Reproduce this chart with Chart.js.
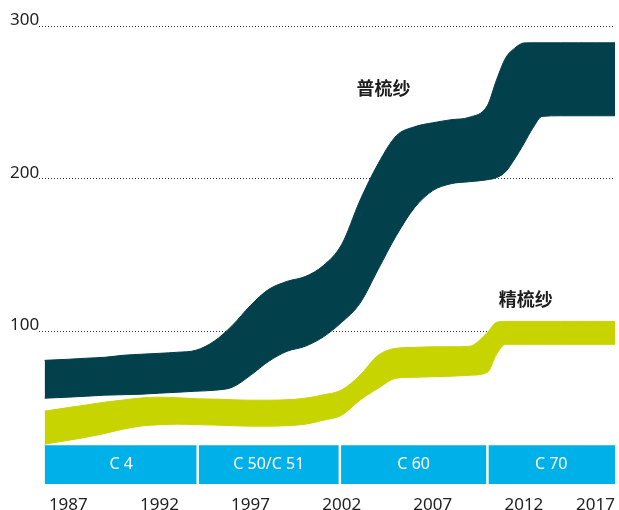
<!DOCTYPE html>
<html>
<head>
<meta charset="utf-8">
<script src="https://cdn.jsdelivr.net/npm/chart.js@4.4.0/dist/chart.umd.min.js"></script>
<style>
  html, body { margin: 0; padding: 0; background: #fff; overflow: hidden; }
  #wrap { width: 628px; height: 527px; }
</style>
</head>
<body>
<div id="wrap"><canvas id="chart" width="628" height="527"></canvas></div>
<script>
// Axis ticks
const tickYears = [1987, 1992, 1997, 2002, 2007, 2012, 2017];
const tickValues = [100, 200, 300];

// Carded yarn band (普梳纱)
const cardedYears = [1985.7, 1987, 1988, 1989, 1990, 1991, 1992, 1993, 1994, 1995, 1996, 1997, 1998, 1999, 2000,
  2001, 2002, 2003, 2004, 2005, 2006, 2007, 2008, 2009, 2010, 2010.5, 2011, 2011.5, 2012, 2012.5, 2013, 2014, 2015, 2016, 2017];
const cardedUpper = [81.0, 81.7, 82.4, 83.0, 84.3, 85.0, 85.6, 86.3, 87.6, 93.5, 103.9, 117.0, 127.5, 132.7, 135.9,
  143.1, 156.9, 185.6, 209.8, 228.1, 234.0, 236.6, 238.6, 240.2, 248.0, 264.8, 279.1, 285.5, 288.9, 289, 289, 289, 289, 289, 289];
const cardedLower = [56.2, 56.9, 57.5, 58.2, 58.5, 58.8, 59.5, 60.1, 60.8, 61.4, 63.4, 71.2, 80.4, 86.9, 90.2,
  96.4, 105.9, 118.3, 140.5, 162.7, 181.0, 192.2, 196.7, 198.0, 199.3, 200.7, 204.6, 213.0, 222.9, 233.3, 240.8, 241.2, 241.2, 241.2, 241.2];

// Combed yarn band (精梳纱)
const combedYears = [1985.7, 1987, 1988, 1989, 1990, 1991, 1992, 1993, 1994, 1995, 1996, 1997, 1998, 1999, 2000,
  2001, 2002, 2003, 2004, 2005, 2006, 2007, 2008, 2009, 2010, 2010.5, 2011, 2012, 2013, 2014, 2015, 2016, 2017];
const combedUpper = [47.7, 50.1, 51.8, 53.6, 55.0, 56.4, 56.9, 56.5, 55.9, 55.6, 55.2, 54.9, 54.9, 55.2, 56.2,
  58.4, 61.6, 71.2, 84.3, 88.9, 89.5, 89.9, 89.9, 90.2, 99.3, 105.9, 106.5, 106.5, 106.5, 106.5, 106.5, 106.5, 106.5];
const combedLower = [26.1, 28.6, 30.7, 33.1, 35.9, 38.0, 38.8, 39.2, 38.9, 38.6, 38.2, 37.9, 37.9, 38.2, 39.2,
  41.8, 45.1, 54.9, 62.7, 69.3, 69.9, 70.3, 70.6, 71.2, 73.2, 85.0, 91.5, 91.5, 91.5, 91.5, 91.5, 91.5, 91.5];

// Machine generations along the bottom
const eraNames = ['C 4', 'C 50/C 51', 'C 60', 'C 70'];
const eraBounds = [1985.7, 1994.1, 2001.9, 2010, 2017];
const eraHeight = 25;

const seriesNames = ['普梳纱', '精梳纱'];

const darkColor = '#02404c';
const greenColor = '#c8d400';
const blueColor = '#00b1e9';
const textFont = "'Noto Sans', sans-serif";

function toPoints(xs, ys) {
  return xs.map(function (x, i) { return { x: x, y: ys[i] }; });
}

function band(xs, ys, color, fill) {
  return {
    data: toPoints(xs, ys),
    fill: fill,
    backgroundColor: color,
    borderColor: color,
    borderWidth: 1,
    pointRadius: 0,
    cubicInterpolationMode: 'monotone'
  };
}

// Labels drawn on top: era names, separators and series names
const labelPlugin = {
  id: 'labels',
  afterDatasetsDraw(chart) {
    const ctx = chart.ctx;
    const xs = chart.scales.x;
    const ys = chart.scales.y;
    const top = ys.getPixelForValue(eraHeight);
    const bottom = ys.getPixelForValue(0);
    ctx.save();
    ctx.strokeStyle = '#fff';
    ctx.lineWidth = 2.5;
    for (let i = 1; i < eraBounds.length - 1; i++) {
      const px = xs.getPixelForValue(eraBounds[i]);
      ctx.beginPath();
      ctx.moveTo(px, top - 1);
      ctx.lineTo(px, bottom + 1);
      ctx.stroke();
    }
    ctx.fillStyle = '#fff';
    ctx.font = '16px ' + textFont;
    ctx.textAlign = 'center';
    ctx.textBaseline = 'middle';
    eraNames.forEach(function (name, i) {
      const cx = (xs.getPixelForValue(eraBounds[i]) + xs.getPixelForValue(eraBounds[i + 1])) / 2;
      ctx.fillText(name, cx, (top + bottom) / 2);
    });
    ctx.fillStyle = '#1e1e1e';
    ctx.font = "bold 18px 'Noto Sans CJK SC', sans-serif";
    ctx.fillText(seriesNames[0], xs.getPixelForValue(2004.3), ys.getPixelForValue(259.5));
    ctx.fillText(seriesNames[1], xs.getPixelForValue(2012.1), ys.getPixelForValue(121));
    ctx.restore();
  }
};

const chart = new Chart(document.getElementById('chart'), {
  type: 'line',
  data: {
    datasets: [
      band(cardedYears, cardedUpper, darkColor, '+1'),
      band(cardedYears, cardedLower, darkColor, false),
      band(combedYears, combedUpper, greenColor, '+1'),
      band(combedYears, combedLower, greenColor, false),
      {
        data: [{ x: eraBounds[0], y: eraHeight }, { x: eraBounds[eraBounds.length - 1], y: eraHeight }],
        fill: { value: 0 },
        backgroundColor: blueColor,
        borderColor: blueColor,
        borderWidth: 1,
        pointRadius: 0
      }
    ]
  },
  options: {
    responsive: false,
    animation: false,
    events: [],
    layout: { padding: { left: 10, top: 26, right: 0, bottom: 0 } },
    plugins: {
      legend: { display: false },
      tooltip: { enabled: false }
    },
    scales: {
      x: {
        type: 'linear',
        min: 1985.4,
        max: 2017,
        // a blank tick at the left edge so the 'inner' alignment only pulls in the last year
        afterBuildTicks: function (s) {
          s.ticks = [{ value: s.min }].concat(tickYears.map(function (v) { return { value: v }; }));
        },
        grid: { display: false, drawTicks: false },
        border: { display: false },
        ticks: {
          color: '#222',
          font: { family: textFont, size: 17, lineHeight: 1 },
          padding: 13,
          align: 'inner',
          maxRotation: 0,
          autoSkip: false,
          callback: function (v) { return tickYears.indexOf(v) >= 0 ? String(v) : ''; }
        }
      },
      y: {
        min: 0,
        max: 300,
        afterBuildTicks: function (s) { s.ticks = tickValues.map(function (v) { return { value: v }; }); },
        grid: { color: '#333', lineWidth: 1, drawTicks: false },
        border: { display: false, dash: [1, 2] },
        ticks: {
          color: '#222',
          font: { family: textFont, size: 17 },
          padding: 0,
          crossAlign: 'far',
          labelOffset: -6
        }
      }
    }
  },
  plugins: [labelPlugin]
});
</script>
</body>
</html>
